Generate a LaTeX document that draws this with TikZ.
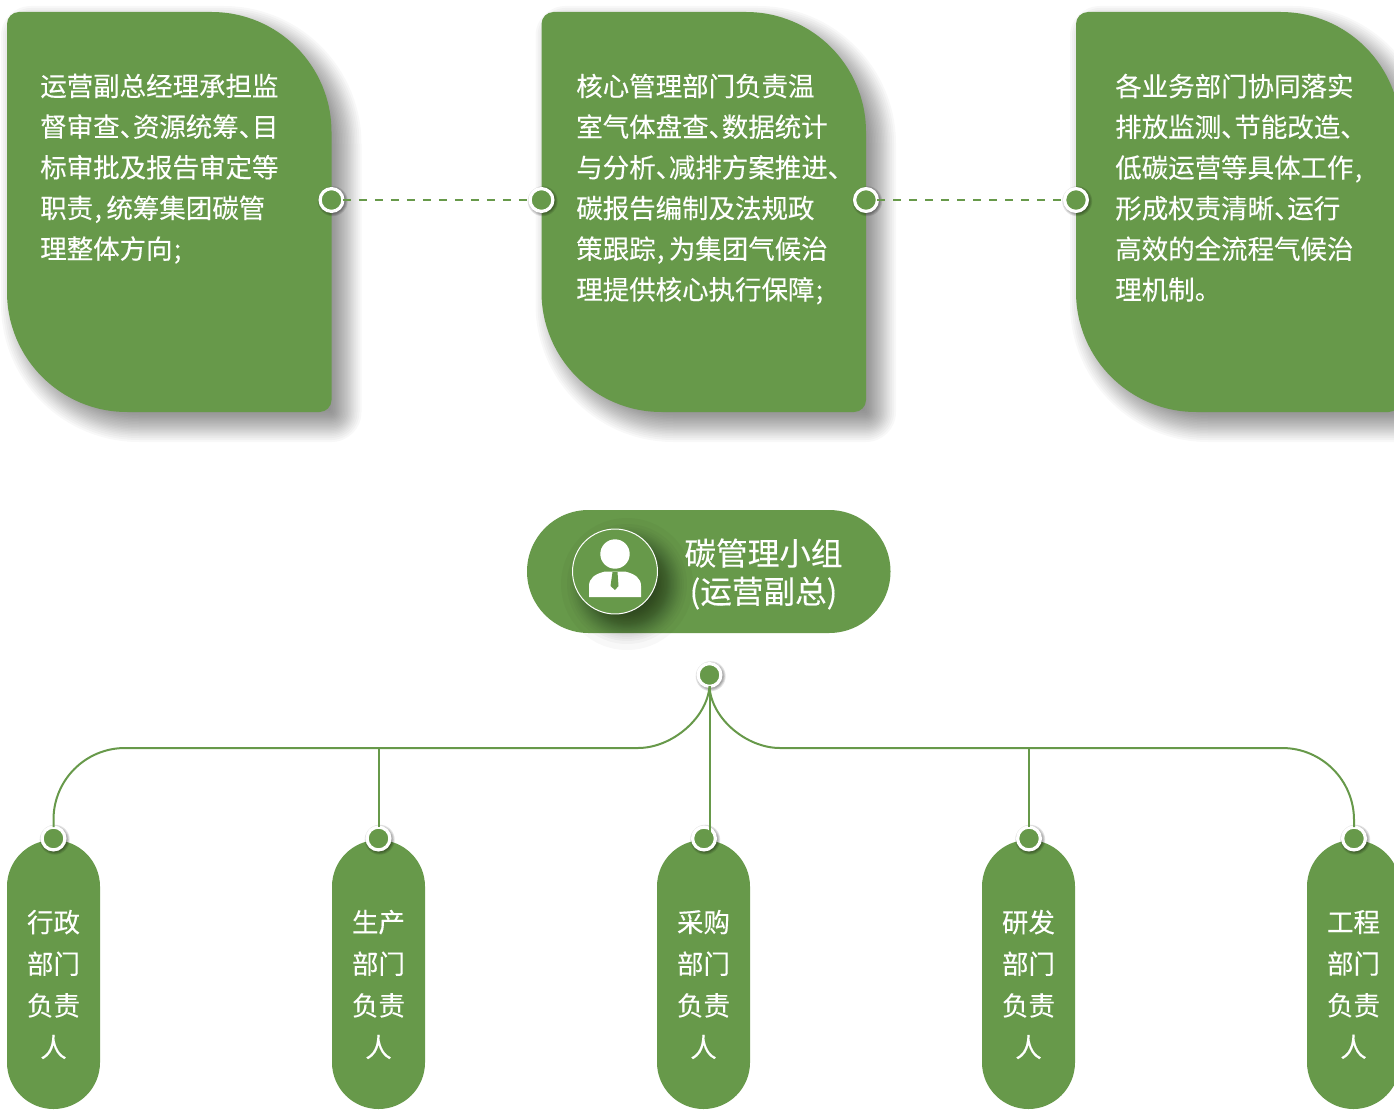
\documentclass[tikz,border=0pt]{standalone}
\usepackage{fontspec}
\setmainfont{Noto Sans CJK SC}[RawFeature={embolden=0.25}]
\definecolor{leaf}{RGB}{103,153,74}
\newcommand\hp[1]{#1\kern-.5em}
\newcommand\lc[1]{\hbox to .5em{\kern.05em #1\hss}}
\newcommand\cardshape[4]{% x0, y0, inset, options
  \pgfmathsetmacro\la{#1+#3}\pgfmathsetmacro\ra{#1+324.5-#3}%
  \pgfmathsetmacro\ta{#2+#3}\pgfmathsetmacro\ba{#2+400-#3}%
  \pgfmathsetmacro\RR{max(120-#3,2)}\pgfmathsetmacro\rr{max(12-#3,1)}%
  \fill[#4] (\la,\ta+\rr) arc (180:270:\rr) -- (\ra-\RR,\ta) arc (270:360:\RR)
  -- (\ra,\ba-\rr) arc (0:90:\rr) -- (\la+\RR,\ba) arc (90:180:\RR) -- cycle;}
\newcommand\softcard[2]{%
  \foreach \t in {-18,-16,-14,-12,-10.5,-9,-7.5,-6,-4.5,-3,-1.5,0,1.5,3,4.5,6,7.5,9,11,13,16,21}{\cardshape{#1+12}{#2+12}{\t}{black,opacity=.026}}}
\newcommand\softdot[2]{%
  \foreach \t in {0,1,2,3,4}{\fill[black,opacity=.11] (#1+1.2,#2+1.2) circle ({15-\t*.9});}}
\tikzset{
  cardtext/.style={anchor=north west,inner sep=0pt,text=white,font=\fontsize{19.85pt}{30.5pt}\selectfont,align=left},
  titletext/.style={inner sep=0pt,text=white,font=\fontsize{23.7pt}{28.6pt}\selectfont,align=center},
  pilltext/.style={inner sep=0pt,text=white,font=\fontsize{19.85pt}{31.25pt}\selectfont,align=center},
  ring/.style={circle,fill=leaf,draw=white,line width=2.4pt,minimum size=17.1pt,inner sep=0pt,outer sep=0pt},
  link/.style={leaf,line width=1.5pt},
  dashlink/.style={leaf,line width=2pt,dash pattern=on 5.8pt off 6.2pt}
}
\begin{document}
\begin{tikzpicture}[x=0.75pt,y=-0.75pt]
\useasboundingbox (0,0) rectangle (1394,1109);
\clip (0,0) rectangle (1394,1109);
% cards
\softcard{7}{12}\softcard{541.5}{12}\softcard{1076}{12}
\cardshape{7}{12}{0}{leaf}
\cardshape{541.5}{12}{0}{leaf}
\cardshape{1076}{12}{0}{leaf}
\node[cardtext] (t1) at (40,73.5) {运营副总经理承担监\\督审查\hp{、}资源统筹\hp{、}目\\标审批及报告审定等\\职责\lc{,}统筹集团碳管\\理整体方向\lc{;}};
\node[cardtext] (t2) at (576,73.5) {核心管理部门负责温\\室气体盘查\hp{、}数据统计\\与分析\hp{、}减排方案推进\hp{、}\\碳报告编制及法规政\\策跟踪\lc{,}为集团气候治\\理提供核心执行保障\lc{;}};
\node[cardtext] (t3) at (1115,73.5) {各业务部门协同落实\\排放监测\hp{、}节能改造\hp{、}\\低碳运营等具体工作\lc{,}\\形成权责清晰\hp{、}运行\\高效的全流程气候治\\理机制。};
% card dots
\foreach \x/\n in {331.5/a,541.5/b,866/c,1076/d}{
  \softdot{\x}{200}
  \node[ring] (\n) at (\x,200) {};
}
\draw[dashlink] (a) -- (b);
\draw[dashlink] (c) -- (d);
% title pill
\fill[leaf] (527,571.5) arc (180:270:61.5) -- (829,510) arc (270:450:61.5) -- (588.5,633) arc (90:180:61.5) -- cycle;
\foreach \t in {-20,-18,-15,-13,-11,-9.5,-8,-6.5,-5,-3.5,-2,-1,0,1,2,3.5,5,6.5,8,9.5,11,13,15,18,24}{\fill[black,opacity=.026] (627,584) circle ({42+\t});}
\node[circle,fill=leaf,draw=white,line width=.75pt,minimum size=63.7pt,inner sep=0pt,outer sep=0pt] (icon) at (615,571.5) {};
\fill[white] (615,554) circle (14.7);
\fill[white] (589,597) -- (589,586) .. controls (589,578) and (595,574) .. (605,571.5) -- (625,571.5) .. controls (635,574) and (641,578) .. (641,586) -- (641,597) -- cycle;
\fill[leaf] (612.5,572) -- (617.5,572) -- (618.5,586) -- (615,590) -- (610.5,586) -- cycle;
\node[titletext] (title) at (763.5,574) {碳管理小组\\(运营副总)};
% lower pills
\foreach \x/\n/\s in {7/p1/行政,332/p2/生产,657/p3/采购,982/p4/研发,1307/p5/工程}{
  \fill[leaf] (\x,886.5) arc (180:360:46.5) -- (\x+93,1062.5) arc (0:180:46.5) -- cycle;
  \node[pilltext] (\n) at (\x+46.5,984.5) {\s\\部门\\负责\\人};
}
% hub and branch coordinates
\coordinate (busL) at (125,748);
\coordinate (busR) at (1282,748);
\softdot{709.5}{675}
\node[ring] (hub) at (709.5,675) {};
\foreach \x/\n in {53.5/d1,378.5/d2,704/d3,1029/d4,1354/d5}{
  \softdot{\x}{838.5}
  \node[ring] (\n) at (\x,838.5) {};
}
\draw[link] (hub.south) .. controls (707,718) and (672,748) .. (638,748) -- (busL) arc (270:180:71.5) -- (d1.north);
\draw[link] (hub.south) .. controls (711,718) and (746,748) .. (780,748) -- (busR) arc (270:360:72) -- (d5.north);
\draw[link] (hub.south) -- (hub.south |- d3.center);
\draw[link] (d2.north) -- (d2 |- busL);
\draw[link] (d4.north) -- (d4 |- busL);
\end{tikzpicture}
\end{document}
